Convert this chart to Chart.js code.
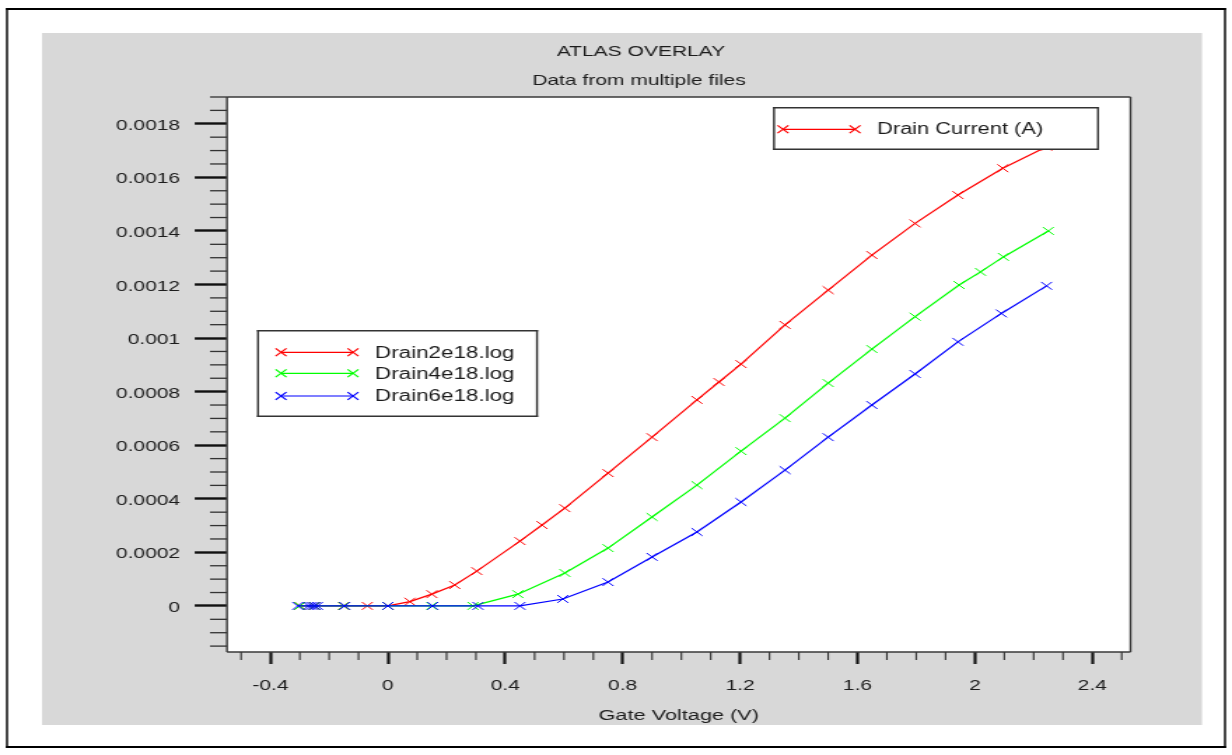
<!DOCTYPE html>
<html>
<head>
<meta charset="utf-8">
<script src="https://cdn.jsdelivr.net/npm/chart.js@4/dist/chart.umd.min.js"></script>
<style>
  html, body { margin: 0; padding: 0; background: #fff; overflow: hidden; }
  /* the canvas is laid out narrow and widened horizontally */
  #wrap { position: absolute; left: 0; top: 0; width: 880px; height: 755px;
          transform: scaleX(1.4); transform-origin: 0 0; }
</style>
</head>
<body>
<div id="wrap"><canvas id="c"></canvas></div>
<script>
// Gate voltage sweeps (V) and drain currents (A), one pair per log file
const vgDrain2e18 = [-0.30, -0.25, -0.15, -0.07, 0.0, 0.075, 0.15, 0.228, 0.303, 0.45, 0.525, 0.603, 0.75, 0.90, 1.053, 1.128, 1.203, 1.353, 1.50, 1.649, 1.796, 1.942, 2.095, 2.244];
const idDrain2e18 = [0, 0, 0, 0, 0, 1.6e-5, 4.4e-5, 7.8e-5, 1.30e-4, 2.42e-4, 3.02e-4, 3.65e-4, 4.96e-4, 6.30e-4, 7.69e-4, 8.36e-4, 9.03e-4, 1.049e-3, 1.179e-3, 1.310e-3, 1.428e-3, 1.534e-3, 1.634e-3, 1.714e-3];

const vgDrain4e18 = [-0.30, -0.25, -0.15, 0.0, 0.15, 0.29, 0.443, 0.603, 0.75, 0.90, 1.053, 1.203, 1.353, 1.50, 1.649, 1.796, 1.946, 2.019, 2.097, 2.25];
const idDrain4e18 = [0, 0, 0, 0, 0, 0, 4.4e-5, 1.23e-4, 2.16e-4, 3.32e-4, 4.51e-4, 5.78e-4, 7.01e-4, 8.32e-4, 9.59e-4, 1.080e-3, 1.198e-3, 1.247e-3, 1.303e-3, 1.400e-3];

const vgDrain6e18 = [-0.307, -0.27, -0.26, -0.25, -0.24, -0.147, 0.0, 0.153, 0.307, 0.45, 0.596, 0.75, 0.90, 1.053, 1.203, 1.353, 1.50, 1.649, 1.796, 1.942, 2.09, 2.244];
const idDrain6e18 = [0, 0, 0, 0, 0, 0, 0, 0, 0, 0, 2.6e-5, 8.9e-5, 1.83e-4, 2.76e-4, 3.88e-4, 5.07e-4, 6.30e-4, 7.50e-4, 8.66e-4, 9.86e-4, 1.092e-3, 1.195e-3];

const seriesNames = ['Drain2e18.log', 'Drain4e18.log', 'Drain6e18.log'];
const seriesColors = ['#ff0000', '#00ff00', '#0000ff'];

// labelled tick values
const xTickLabels = [-0.4, 0, 0.4, 0.8, 1.2, 1.6, 2, 2.4];
const yTickLabels = [0, 0.0002, 0.0004, 0.0006, 0.0008, 0.001, 0.0012, 0.0014, 0.0016, 0.0018];

const chartTitle = 'ATLAS OVERLAY';
const chartSubtitle = 'Data from multiple files';
const xAxisTitle = 'Gate Voltage (V)';
const yQuantity = 'Drain Current (A)';

// ---- layout helpers (page x positions are divided by the stretch) ----
const STRETCH = 1.4;
const W = 880, H = 755;
const sx = v => v / STRETCH;
const FONT = "'Liberation Sans', Arial, sans-serif";
const TEXT = '#1c1c1c';

const near = (v, list, tol) => list.some(t => Math.abs(t - v) < tol);
const isMajorX = v => near(v, xTickLabels, 1e-6);
const isMajorY = v => near(v, yTickLabels, 1e-9);

function fmt(v, digits) {
  const r = Math.round(v * Math.pow(10, digits)) / Math.pow(10, digits);
  return Object.is(r, -0) ? '0' : String(r);
}

const pts = (xs, ys) => xs.map((x, i) => ({ x, y: ys[i] }));
const seriesData = [
  pts(vgDrain2e18, idDrain2e18),
  pts(vgDrain4e18, idDrain4e18),
  pts(vgDrain6e18, idDrain6e18)
];

// rectangle outline with separate thickness for vertical / horizontal sides
function outline(ctx, X0, Y0, X1, Y1, color, vw, hw) {
  ctx.fillStyle = color;
  ctx.fillRect(sx(X0), Y0, sx(X1 - X0), hw);
  ctx.fillRect(sx(X0), Y1 - hw, sx(X1 - X0), hw);
  ctx.fillRect(sx(X0), Y0, sx(vw), Y1 - Y0);
  ctx.fillRect(sx(X1 - vw), Y0, sx(vw), Y1 - Y0);
}

function crossMark(ctx, x, y, r) {
  const d = r * Math.SQRT1_2;
  ctx.beginPath();
  ctx.moveTo(x - d, y - d); ctx.lineTo(x + d, y + d);
  ctx.moveTo(x - d, y + d); ctx.lineTo(x + d, y - d);
  ctx.stroke();
}

function legendSample(ctx, X0, X1, y, color) {
  ctx.save();
  ctx.strokeStyle = color;
  ctx.lineWidth = 1.2;
  ctx.beginPath();
  ctx.moveTo(sx(X0), y); ctx.lineTo(sx(X1), y);
  ctx.stroke();
  crossMark(ctx, sx(X0), y, 5.5);
  crossMark(ctx, sx(X1), y, 5.5);
  ctx.restore();
}

const decor = {
  id: 'decor',
  beforeDraw(chart) {
    const { ctx, chartArea: a } = chart;
    ctx.save();
    ctx.fillStyle = '#ffffff';
    ctx.fillRect(0, 0, W, H);
    // outer page frame
    outline(ctx, 6, 8, 1226, 748, '#000000', 2, 2);
    // grey panel
    ctx.fillStyle = '#d8d8d8';
    ctx.fillRect(sx(42), 33, sx(1202 - 42), 725 - 33);
    // plotting area
    ctx.fillStyle = '#ffffff';
    ctx.fillRect(a.left, a.top, a.right - a.left, a.bottom - a.top);
    ctx.restore();
  },
  afterDraw(chart) {
    const { ctx, chartArea: a, scales } = chart;
    ctx.save();
    // plot frame
    ctx.fillStyle = '#3a3a3a';
    ctx.fillRect(a.left - sx(1), a.top, sx(2), a.bottom - a.top);
    ctx.fillRect(a.right - sx(1), a.top, sx(2), a.bottom - a.top);
    ctx.fillRect(a.left, a.top - 0.75, a.right - a.left, 1.5);
    ctx.fillRect(a.left, a.bottom - 0.75, a.right - a.left, 1.5);

    // minor tick marks
    ctx.fillStyle = '#333333';
    scales.x.ticks.forEach(t => {
      if (isMajorX(t.value)) return;
      const p = scales.x.getPixelForValue(t.value);
      ctx.fillRect(p - sx(0.8), a.bottom, sx(1.6), 8);
    });
    scales.y.ticks.forEach(t => {
      if (isMajorY(t.value)) return;
      const p = scales.y.getPixelForValue(t.value);
      ctx.fillRect(a.left - sx(17), p - 0.65, sx(17), 1.3);
    });

    // titles
    ctx.fillStyle = TEXT;
    ctx.textAlign = 'center';
    ctx.textBaseline = 'middle';
    ctx.font = '15px ' + FONT;
    ctx.fillText(chartTitle, sx(641), 52);
    ctx.fillText(chartSubtitle, sx(639), 81);

    // quantity key (top right)
    ctx.fillStyle = '#ffffff';
    ctx.fillRect(sx(773), 107, sx(1099 - 773), 150 - 107);
    outline(ctx, 773, 107, 1099, 150, '#333333', 2, 1.5);
    legendSample(ctx, 783, 855, 129.3, seriesColors[0]);
    ctx.fillStyle = TEXT;
    ctx.textAlign = 'left';
    ctx.font = '15.6px ' + FONT;
    ctx.fillText(yQuantity, sx(877), 130);

    // file key
    ctx.fillStyle = '#ffffff';
    ctx.fillRect(sx(257), 330, sx(538 - 257), 417 - 330);
    outline(ctx, 257, 330, 538, 417, '#333333', 2, 1.5);
    const rows = [352.3, 373.3, 396];
    ctx.font = '16px ' + FONT;
    seriesNames.forEach((n, i) => {
      legendSample(ctx, 281, 353, rows[i], seriesColors[i]);
      ctx.fillStyle = TEXT;
      ctx.fillText(n, sx(375), rows[i] + 1);
    });
    ctx.restore();
  }
};

const datasets = seriesData.map((d, i) => ({
  label: seriesNames[i],
  data: d,
  borderColor: seriesColors[i],
  backgroundColor: seriesColors[i],
  borderWidth: 1.2,
  pointStyle: 'crossRot',
  pointRadius: 5.5,
  pointHoverRadius: 5.5,
  pointBorderWidth: 1,
  showLine: true,
  fill: false,
  tension: 0,
  order: 3 - i
}));

new Chart(document.getElementById('c'), {
  type: 'scatter',
  data: { datasets },
  options: {
    responsive: true,
    maintainAspectRatio: false,
    animation: false,
    events: [],
    layout: {
      padding: { left: sx(42), right: W - sx(1130.5), top: 97, bottom: H - 725 }
    },
    plugins: {
      legend: { display: false },
      title: { display: false },
      tooltip: { enabled: false }
    },
    scales: {
      x: {
        type: 'linear',
        position: 'bottom',
        min: -0.548,
        max: 2.53,
        border: { display: false },
        grid: {
          display: true,
          drawOnChartArea: false,
          drawTicks: true,
          tickLength: 12,
          tickWidth: c => sx(3),
          tickColor: c => (c.tick && isMajorX(c.tick.value)) ? '#111111' : 'rgba(0,0,0,0)'
        },
        ticks: {
          stepSize: 0.1,
          includeBounds: false,
          autoSkip: false,
          maxRotation: 0,
          minRotation: 0,
          padding: 13,
          color: TEXT,
          font: { family: FONT, size: 15 },
          callback: v => isMajorX(v) ? fmt(v, 1) : ''
        },
        title: {
          display: true,
          text: xAxisTitle,
          color: TEXT,
          font: { family: FONT, size: 15.5 },
          padding: { top: 0, bottom: 0 }
        },
        afterFit: s => { s.height = 73; }
      },
      y: {
        type: 'linear',
        position: 'left',
        min: -0.000172,
        max: 0.0019,
        border: { display: false },
        grid: {
          display: true,
          drawOnChartArea: false,
          drawTicks: true,
          tickLength: sx(32.3),
          tickWidth: 2.4,
          tickColor: c => (c.tick && isMajorY(c.tick.value)) ? '#111111' : 'rgba(0,0,0,0)'
        },
        ticks: {
          stepSize: 0.00005,
          includeBounds: false,
          autoSkip: false,
          padding: sx(14.5),
          labelOffset: 2,
          color: TEXT,
          font: { family: FONT, size: 15 },
          callback: v => isMajorY(v) ? fmt(v, 5) : ''
        },
        afterFit: s => { s.width = sx(227 - 42); }
      }
    }
  },
  plugins: [decor]
});
</script>
</body>
</html>
